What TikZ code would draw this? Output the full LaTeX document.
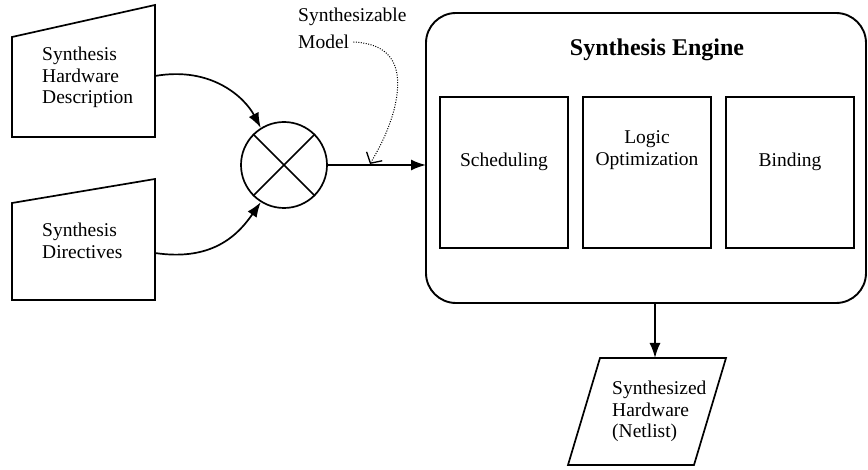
\documentclass[tikz,border=0pt]{standalone}
\usepackage{fontspec}
\setmainfont{Liberation Serif}
\usetikzlibrary{arrows.meta}
\begin{document}
\begin{tikzpicture}[x=1pt,y=-1pt,
  shapeline/.style={line width=1.7pt},
  boxline/.style={line width=1.3pt},
  flow/.style={line width=1.7pt,-{Latex[length=15pt,width=11pt]}},
  note/.style={line width=1pt,dash pattern=on 1pt off 1.5pt,-{Straight Barb[length=8pt,width=18pt,line width=1.3pt]}},
  lbl/.style={font=\fontsize{19.5}{21.5}\selectfont,align=left,inner sep=0pt},
  clbl/.style={font=\fontsize{19.5}{21.5}\selectfont,align=center,inner sep=0pt}]
\useasboundingbox (0,0) rectangle (868,470);

% input sources (manual-input shapes)
\draw[shapeline] (12,37) -- (155,5) -- (155,137) -- (12,137) -- cycle;
\draw[shapeline] (12,203) -- (155,179) -- (155,300) -- (12,300) -- cycle;
\node[lbl,anchor=north west] (hwd) at (42,47) {Synthesis\\Hardware\\Description};
\node[lbl,anchor=north west] (dir) at (42,223) {Synthesis\\Directives};
\coordinate (hwdout) at (155,76);
\coordinate (dirout) at (155,253);

% combiner
\node[circle,draw,line width=1.7pt,minimum size=86pt,inner sep=0pt] (mix) at (284,165) {};
\draw[line width=1.7pt] (mix.45) -- (mix.225) (mix.135) -- (mix.315);

% synthesis engine
\draw[line width=1.9pt,rounded corners=30pt] (426,13) rectangle (866,303);
\coordinate (engL) at (426,165);
\coordinate (engB) at (655,303);
\node[font=\bfseries\fontsize{24}{26}\selectfont,inner sep=0pt] (eng) at (657,50) {Synthesis Engine};
\draw[boxline] (440,97) rectangle (568,248);
\draw[boxline] (583,97) rectangle (711,248);
\draw[boxline] (726,97) rectangle (854,248);
\node[clbl] (sched) at (504,162) {Scheduling};
\node[clbl] (logic) at (647,150) {Logic\\Optimization};
\node[clbl] (bind) at (790,162) {Binding};

% output netlist (parallelogram)
\draw[shapeline] (600,358) -- (726,358) -- (694,465) -- (568,465) -- cycle;
\coordinate (netT) at (655,358);
\node[lbl,anchor=north west] (net) at (612,381) {Synthesized\\Hardware\\(Netlist)};

% flow connectors
\draw[flow] (hwdout) .. controls (212,66) and (245,98) .. (mix.122);
\draw[flow] (dirout) .. controls (215,262) and (240,232) .. (mix.238);
\draw[flow] (mix.east) -- (engL);
\draw[flow] (engB) -- (netT);

% annotation
\node[lbl,anchor=west] (model1) at (298,17) {Synthesizable};
\node[lbl,anchor=west] (model2) at (298,42) {Model};
\coordinate (modelpt) at (370,164);
\draw[note] (model2.east) ++(4,0) .. controls (395,44) and (404,70) .. (394,110)
  .. controls (387,135) and (378,150) .. (modelpt);
\end{tikzpicture}
\end{document}
